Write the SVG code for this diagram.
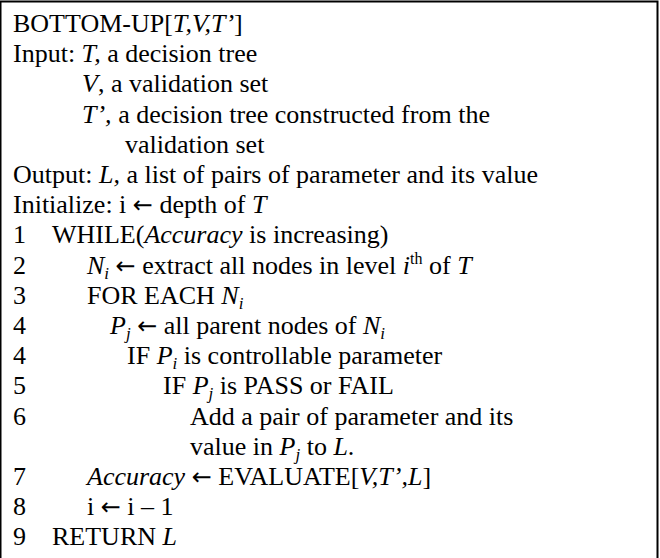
<svg xmlns="http://www.w3.org/2000/svg" width="660" height="558" viewBox="0 0 660 558">
  <style>
    text { font-family: "Liberation Serif", "Times New Roman", serif; font-size: 26px; fill: #000; }
    .it { font-style: italic; }
    .sub { font-size: 17px; font-style: italic; }
    .sup { font-size: 16px; }
    .arr { font-family: "DejaVu Sans", sans-serif; font-size: 24px; }
  </style>
  <rect width="660" height="558" fill="#fff"/>
  <!-- frame: open at the bottom edge -->
  <path d="M0.5,560 V1.5 H657.5 V560" fill="none" stroke="#000" stroke-width="2"/>

  <g id="algorithm">
    <text x="13" y="32">BOTTOM-UP[<tspan class="it">T,V,T’</tspan>]</text>
    <text x="13" y="62.2">Input: <tspan class="it">T,</tspan> a decision tree</text>
    <text x="82" y="92.4"><tspan class="it">V</tspan>, a validation set</text>
    <text x="82" y="122.6"><tspan class="it">T’,</tspan> a decision tree constructed from the</text>
    <text x="125" y="152.8">validation set</text>
    <text x="13" y="183">Output: <tspan class="it">L,</tspan> a list of pairs of parameter and its value</text>
    <text x="13" y="213.2">Initialize: i <tspan class="arr">←</tspan> depth of <tspan class="it">T</tspan></text>

    <text x="13" y="243.4">1</text>
    <text x="52" y="243.4">WHILE(<tspan class="it">Accuracy</tspan> is increasing)</text>

    <text x="13" y="273.6">2</text>
    <text x="87" y="273.6"><tspan class="it">N</tspan><tspan class="sub" dy="5">i</tspan><tspan dy="-5"> </tspan><tspan class="arr">←</tspan> extract all nodes in level <tspan class="it">i</tspan><tspan class="sup" dy="-10">th</tspan><tspan dy="10"> of </tspan><tspan class="it">T</tspan></text>

    <text x="13" y="303.8">3</text>
    <text x="87" y="303.8">FOR EACH <tspan class="it">N</tspan><tspan class="sub" dy="5">i</tspan></text>

    <text x="13" y="334">4</text>
    <text x="110" y="334"><tspan class="it">P</tspan><tspan class="sub" dy="5">j</tspan><tspan dy="-5"> </tspan><tspan class="arr">←</tspan> all parent nodes of <tspan class="it">N</tspan><tspan class="sub" dy="5">i</tspan></text>

    <text x="13" y="364.2">4</text>
    <text x="127" y="364.2">IF <tspan class="it">P</tspan><tspan class="sub" dy="5">i</tspan><tspan dy="-5"> is controllable parameter</tspan></text>

    <text x="13" y="394.4">5</text>
    <text x="163" y="394.4">IF <tspan class="it">P</tspan><tspan class="sub" dy="5">j</tspan><tspan dy="-5"> is PASS or FAIL</tspan></text>

    <text x="13" y="424.6">6</text>
    <text x="190" y="424.6">Add a pair of parameter and its</text>
    <text x="190" y="454.8">value in <tspan class="it">P</tspan><tspan class="sub" dy="5">j</tspan><tspan dy="-5"> to </tspan><tspan class="it">L</tspan>.</text>

    <text x="13" y="485">7</text>
    <text x="87" y="485"><tspan class="it">Accuracy</tspan> <tspan class="arr">←</tspan>  EVALUATE[<tspan class="it">V,T’,L</tspan>]</text>

    <text x="13" y="515.2">8</text>
    <text x="87" y="515.2">i <tspan class="arr">←</tspan> i – 1</text>

    <text x="13" y="545.4">9</text>
    <text x="52" y="545.4">RETURN <tspan class="it">L</tspan></text>
  </g>
</svg>
